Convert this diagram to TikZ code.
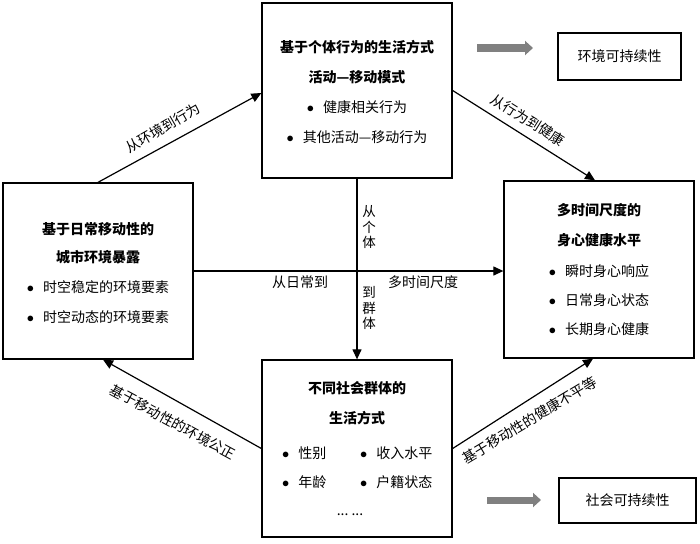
\documentclass[tikz,border=0pt]{standalone}
\usepackage{fontspec}
\setmainfont{Noto Sans CJK SC}
\usetikzlibrary{arrows.meta}
\definecolor{garrowc}{RGB}{128,128,128}
\newcommand{\itm}[1]{$\bullet$\hspace{9pt}#1}
\tikzset{
  box/.style={draw, line width=1.3pt, inner sep=0pt, fill=white},
  ttl/.style={font=\fontsize{14}{16}\selectfont\bfseries, inner sep=0pt},
  txt/.style={font=\fontsize{14}{16}\selectfont, inner sep=0pt},
  lbl/.style={font=\fontsize{14}{16}\selectfont, inner sep=0pt},
  vlbl/.style={font=\fontsize{13.5}{15.5}\selectfont, inner sep=0pt, align=center},
  arr/.style={line width=1.2pt, -{Triangle[length=10pt,width=9pt]}},
  garrow/.style={draw=garrowc, line width=7pt, -{Triangle[length=8pt,width=14pt]}}
}
\begin{document}
\begin{tikzpicture}[x=1pt,y=-1pt]
\useasboundingbox (0,0) rectangle (700,543);
% boxes
\node[box, minimum width=190pt, minimum height=175pt] (top) at (357,90.5) {};
\node[box, minimum width=190pt, minimum height=176pt] (left) at (98,271) {};
\node[box, minimum width=190pt, minimum height=177pt] (right) at (599,269.5) {};
\node[box, minimum width=190pt, minimum height=177pt] (bot) at (357,448.5) {};
\node[box, minimum width=123pt, minimum height=47pt, font=\fontsize{14}{16}\selectfont] (env) at (619.5,56.5) {环境可持续性};
\node[box, minimum width=137pt, minimum height=45pt, font=\fontsize{14}{16}\selectfont] (soc) at (627.5,500.5) {社会可持续性};
% top box text
\node[ttl] (t1) at (357,47) {基于个体行为的生活方式};
\node[ttl] (t2) at (357,77) {活动—移动模式};
\node[txt] (t3) at (357,107) {\itm{健康相关行为}};
\node[txt] (t4) at (357,137) {\itm{其他活动—移动行为}};
% left box text
\node[ttl] (l1) at (98,229) {基于日常移动性的};
\node[ttl] (l2) at (98,257) {城市环境暴露};
\node[txt] (l3) at (98,287) {\itm{时空稳定的环境要素}};
\node[txt] (l4) at (98,317) {\itm{时空动态的环境要素}};
% right box text
\node[ttl] (r1) at (599,210) {多时间尺度的};
\node[ttl] (r2) at (599,240) {身心健康水平};
\node[txt] (r3) at (599,271) {\itm{瞬时身心响应}};
\node[txt] (r4) at (599,300) {\itm{日常身心状态}};
\node[txt] (r5) at (599,329) {\itm{长期身心健康}};
% bottom box text
\node[ttl] (b1) at (357,388) {不同社会群体的};
\node[ttl] (b2) at (357,418) {生活方式};
\node[txt, anchor=west] (b3) at (282,453) {\itm{性别}};
\node[txt, anchor=west] (b4) at (360,453) {\itm{收入水平}};
\node[txt, anchor=west] (b5) at (282,482) {\itm{年龄}};
\node[txt, anchor=west] (b6) at (360,482) {\itm{户籍状态}};
\node[txt] (b7) at (350,515) {...\ ...};
% connectors
\draw[arr] (left.north) -- ([yshift=-2.5pt]top.west);
\draw[arr] (top.east) -- ([xshift=-4pt]right.north);
\draw[arr] (bot.west) -- ([xshift=5pt]left.south);
\draw[arr] (bot.east) -- ([xshift=-6pt]right.south);
\draw[arr] (left.east) -- (left.east -| right.west);
\draw[arr] (top.south) -- (bot.north);
% labels
\node[lbl, rotate=30] (a1) at (163,128) {从环境到行为};
\node[lbl, rotate=-32] (a2) at (528,120) {从行为到健康};
\node[lbl, rotate=-28.5] (a3) at (173,422) {基于移动性的环境公正};
\node[lbl, rotate=31] (a4) at (530,420) {基于移动性的健康不平等};
\node[vlbl] (v1) at (369,227) {从\\个\\体};
\node[vlbl] (v2) at (369,308) {到\\群\\体};
\node[lbl] (h1) at (300,282) {从日常到};
\node[lbl] (h2) at (423,282) {多时间尺度};
% gray arrows
\coordinate (g1s) at (477,48);
\coordinate (g1e) at (533,48);
\coordinate (g2s) at (487,500);
\coordinate (g2e) at (541,500);
\draw[garrow] (g1s) -- (g1e);
\draw[garrow] (g2s) -- (g2e);
\end{tikzpicture}
\end{document}
